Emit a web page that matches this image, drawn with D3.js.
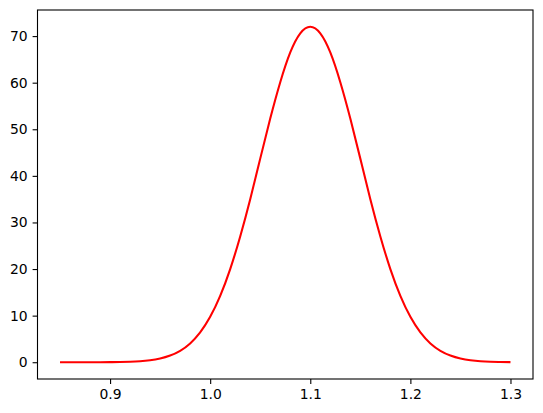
<!DOCTYPE html>
<html>
  <head>
    <meta charset="utf-8">
    <title>Peak</title>
    <style>
    body { margin: 0; background: #fff; }
    .axis text { font-family: "DejaVu Sans", sans-serif; font-size: 13.9px; fill: #000; }
    .axis path, .axis line { stroke: #000; stroke-width: 1.1px; }
    </style>
    <script src="https://d3js.org/d3.v7.min.js"></script>
  </head>
  <body>
    <svg></svg>
    <script>
      // values, x step 0.01
      var xValues = [0.85, 0.86, 0.87, 0.88, 0.89, 0.90, 0.91, 0.92, 0.93, 0.94,
                     0.95, 0.96, 0.97, 0.98, 0.99, 1.00, 1.01, 1.02, 1.03, 1.04,
                     1.05, 1.06, 1.07, 1.08, 1.09, 1.10, 1.11, 1.12, 1.13, 1.14,
                     1.15, 1.16, 1.17, 1.18, 1.19, 1.20, 1.21, 1.22, 1.23, 1.24,
                     1.25, 1.26, 1.27, 1.28, 1.29, 1.30];
      var yValues = [0.00, 0.00, 0.00, 0.00, 0.01, 0.02, 0.05, 0.11, 0.22, 0.43,
                     0.80, 1.43, 2.45, 4.04, 6.40, 9.74, 14.25, 20.0, 27.0, 35.0,
                     43.7, 52.3, 60.1, 66.5, 70.6, 72.0, 70.6, 66.5, 60.1, 52.3,
                     43.7, 35.0, 27.0, 20.0, 14.25, 9.74, 6.40, 4.04, 2.45, 1.43,
                     0.80, 0.43, 0.22, 0.11, 0.05, 0.02];
      var xTicks = [0.9, 1.0, 1.1, 1.2, 1.3];
      var yTicks = [0, 10, 20, 30, 40, 50, 60, 70];

      var width = 543, height = 413;
      var margin = {left: 37.5, right: 10, top: 10, bottom: 34};

      var svg = d3.select("svg")
          .attr("width", width)
          .attr("height", height);

      var xMin = d3.min(xValues), xMax = d3.max(xValues);
      var yMin = d3.min(yValues), yMax = d3.max(yValues);
      var xPad = (xMax - xMin) * 0.05, yPad = (yMax - yMin) * 0.05;

      var x = d3.scaleLinear()
          .domain([xMin - xPad, xMax + xPad])
          .range([margin.left, width - margin.right]);
      var y = d3.scaleLinear()
          .domain([yMin - yPad, yMax + yPad])
          .range([height - margin.bottom, margin.top]);

      var points = xValues.map(function(d, i) { return [d, yValues[i]]; });

      var line = d3.line()
          .x(function(d) { return x(d[0]); })
          .y(function(d) { return y(d[1]); })
          .curve(d3.curveNatural);

      svg.append("path")
          .datum(points)
          .attr("fill", "none")
          .attr("stroke", "#ff0000")
          .attr("stroke-width", 2.08)
          .attr("d", line);

      var xAxis = svg.append("g")
          .attr("class", "axis")
          .attr("transform", "translate(0," + (height - margin.bottom) + ")")
          .call(d3.axisBottom(x).tickValues(xTicks).tickFormat(d3.format(".1f"))
                .tickSize(4.9).tickPadding(4.9).tickSizeOuter(0));
      xAxis.select(".domain").remove();

      var yAxis = svg.append("g")
          .attr("class", "axis")
          .attr("transform", "translate(" + margin.left + ",0)")
          .call(d3.axisLeft(y).tickValues(yTicks).tickFormat(d3.format("d"))
                .tickSize(4.9).tickPadding(4.9).tickSizeOuter(0));
      yAxis.select(".domain").remove();

      // frame
      svg.append("rect")
          .attr("x", margin.left)
          .attr("y", margin.top)
          .attr("width", width - margin.right - margin.left)
          .attr("height", height - margin.bottom - margin.top)
          .attr("fill", "none")
          .attr("stroke", "#000")
          .attr("stroke-width", 1.1);
    </script>
  </body>
</html>
